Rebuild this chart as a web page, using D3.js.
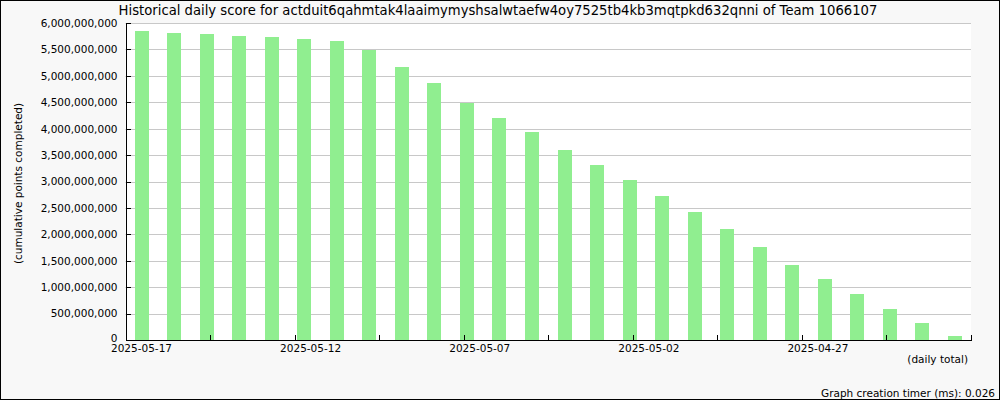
<!DOCTYPE html>
<html><head><meta charset="utf-8">
<script src="https://cdn.jsdelivr.net/npm/d3@7"></script>
<style>
html,body{margin:0;padding:0;background:#fff;}
svg{display:block;font-family:"DejaVu Sans",sans-serif;}
</style></head>
<body>
<svg id="chart" width="1000" height="400"></svg>
<script>
const dates = ["2025-05-17","2025-05-16","2025-05-15","2025-05-14","2025-05-13","2025-05-12","2025-05-11","2025-05-10","2025-05-09","2025-05-08","2025-05-07","2025-05-06","2025-05-05","2025-05-04","2025-05-03","2025-05-02","2025-05-01","2025-04-30","2025-04-29","2025-04-28","2025-04-27","2025-04-26","2025-04-25","2025-04-24","2025-04-23","2025-04-22"];
const scores = [5849000000,5811000000,5792000000,5754000000,5735000000,5697000000,5659000000,5495000000,5167000000,4864000000,4492000000,4202000000,3937000000,3596000000,3312000000,3028000000,2726000000,2423000000,2101000000,1760000000,1420000000,1155000000,871000000,587000000,322000000,76000000];
const xTickLabels = ["2025-05-17","","2025-05-12","","2025-05-07","","2025-05-02","","2025-04-27","",""];
const yTicks = [0,500000000,1000000000,1500000000,2000000000,2500000000,3000000000,3500000000,4000000000,4500000000,5000000000,5500000000,6000000000];
const title = "Historical daily score for actduit6qahmtak4laaimymyshsalwtaefw4oy7525tb4kb3mqtpkd632qnni of Team 1066107";

const W = 1000, H = 400;
const m = {left:125.5, right:971, top:23, bottom:340};
const svg = d3.select("#chart");
const fs = "10.5px";

svg.append("rect").attr("x",0.5).attr("y",0.5).attr("width",W-1).attr("height",H-1)
  .attr("fill","#f8f8f8").attr("stroke","#000").attr("stroke-width",1);
svg.append("rect").attr("x",m.left).attr("y",m.top).attr("width",m.right-m.left).attr("height",m.bottom-m.top)
  .attr("fill","#fff");

const x = d3.scaleBand().domain(dates).range([m.left,m.right]).paddingInner(0).paddingOuter(0);
const xt = d3.scaleLinear().domain([0,10]).range([m.left,m.right]);
const y = d3.scaleLinear().domain([0,6000000000]).range([m.bottom,m.top]);

// gridlines
svg.append("g").selectAll("line").data(yTicks.filter(d=>d>0)).join("line")
  .attr("x1",m.left).attr("x2",m.right)
  .attr("y1",d=>Math.round(y(d))+0.5).attr("y2",d=>Math.round(y(d))+0.5)
  .attr("stroke","#c8c8c8").attr("stroke-width",1);

// bars
const bw = 14;
svg.append("g").selectAll("rect").data(scores).join("rect")
  .attr("x",(d,i)=>Math.round(x(dates[i]) + x.bandwidth()/2 - bw/2))
  .attr("width",bw)
  .attr("y",d=>Math.round(y(d)))
  .attr("height",d=>m.bottom-Math.round(y(d)))
  .attr("fill","#90ee90")
  .attr("shape-rendering","crispEdges");

// y axis
const ya = svg.append("g").attr("transform",`translate(${m.left},0)`)
  .call(d3.axisLeft(y).tickValues(yTicks).tickSizeInner(-5).tickSizeOuter(0).tickPadding(8)
    .tickFormat(d3.format(",")));
ya.select(".domain").attr("stroke","#000").attr("shape-rendering","crispEdges");
ya.selectAll(".tick line").attr("stroke","#000").attr("shape-rendering","crispEdges");
ya.selectAll("text").attr("font-size",fs).attr("fill","#000").attr("font-family","DejaVu Sans");
ya.selectAll(".tick").filter(d=>d===0).select("text").attr("y",-2);

// x axis
const xa = svg.append("g").attr("transform",`translate(0,${m.bottom})`)
  .call(d3.axisBottom(xt).tickValues(d3.range(0,11)).tickSizeInner(-5).tickSizeOuter(0)
    .tickFormat(i=>xTickLabels[i]));
xa.select(".domain").attr("stroke","#000").attr("shape-rendering","crispEdges");
xa.selectAll(".tick line").attr("stroke","#000").attr("shape-rendering","crispEdges");
xa.selectAll("text").attr("font-size",fs).attr("fill","#000").attr("font-family","DejaVu Sans")
  .attr("text-anchor","start").attr("x",-15).attr("y",5);

// titles
svg.append("text").attr("x",498).attr("y",15).attr("text-anchor","middle")
  .attr("font-size","13.2px").attr("fill","#000").text(title);
svg.append("text").attr("transform",`translate(22,${(m.top+m.bottom)/2+2}) rotate(-90)`)
  .attr("text-anchor","middle").attr("font-size",fs).attr("fill","#000")
  .text("(cumulative points completed)");
svg.append("text").attr("x",968).attr("y",363).attr("text-anchor","end")
  .attr("font-size",fs).attr("fill","#000").text("(daily total)");
svg.append("text").attr("x",995).attr("y",397).attr("text-anchor","end")
  .attr("font-size",fs).attr("fill","#000").text("Graph creation timer (ms): 0.026");
</script>
</body></html>
